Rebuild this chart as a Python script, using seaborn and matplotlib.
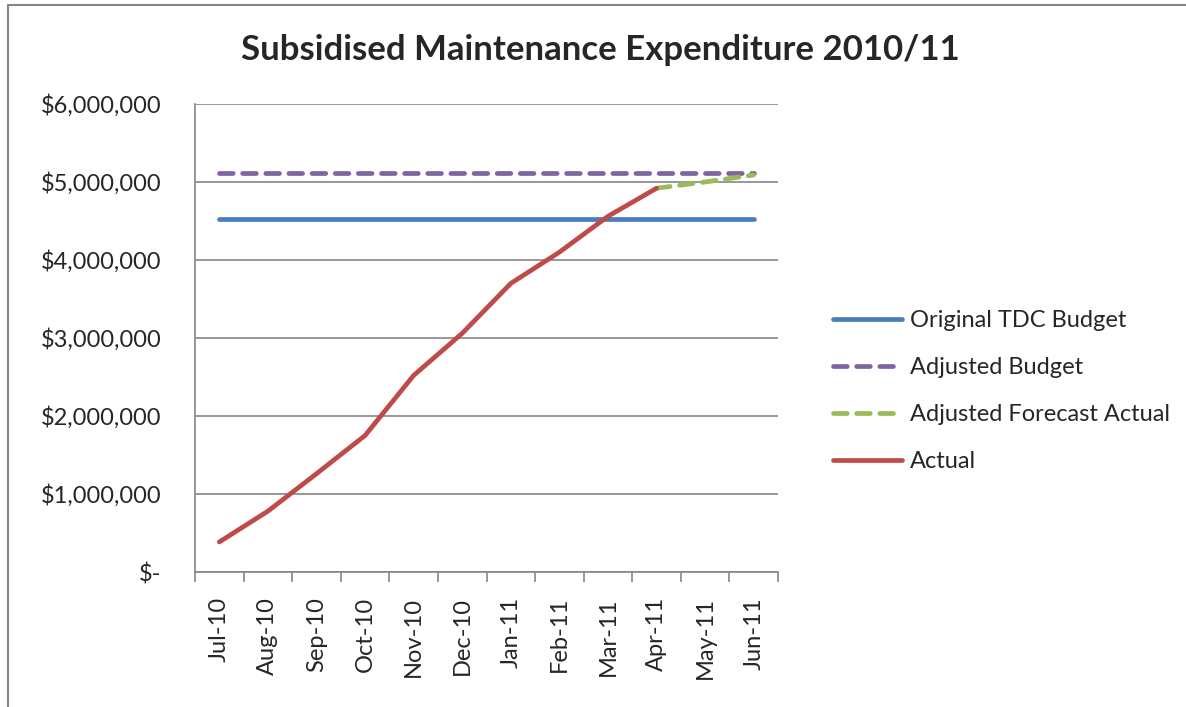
import numpy as np
import pandas as pd
import matplotlib
matplotlib.use("Agg")
import matplotlib.pyplot as plt
from matplotlib.lines import Line2D
import seaborn as sns

months = ["Jul-10", "Aug-10", "Sep-10", "Oct-10", "Nov-10", "Dec-10",
          "Jan-11", "Feb-11", "Mar-11", "Apr-11", "May-11", "Jun-11"]
original_budget = [4520000] * 12
adjusted_budget = [5115000] * 12
forecast_months = ["Apr-11", "May-11", "Jun-11"]
forecast_actual = [4920000, 5000000, 5090000]
actual_months = months[:10]
actual = [385000, 780000, 1260000, 1750000, 2520000, 3060000,
          3700000, 4100000, 4560000, 4920000]
y_ticks = [0, 1000000, 2000000, 3000000, 4000000, 5000000, 6000000]
title = "Subsidised Maintenance Expenditure 2010/11"

sns.set_theme(style="white")
plt.rcParams["font.family"] = ["Lato", "DejaVu Sans"]

fig = plt.figure(figsize=(11.86, 7.07), dpi=100)
ax = fig.add_axes([195 / 1186, 1 - 572 / 707, (778 - 195) / 1186, (572 - 104) / 707])

pos = {m: i for i, m in enumerate(months)}
lw = 3.4
dash = (2.9, 2.0)
c_blue, c_purple, c_green, c_red = "#4A7EBB", "#8064A2", "#9BBB59", "#BE4B48"

sns.lineplot(x=[pos[m] for m in months], y=original_budget, ax=ax, color=c_blue,
             lw=lw, solid_capstyle="round")
sns.lineplot(x=[pos[m] for m in months], y=adjusted_budget, ax=ax, color=c_purple,
             lw=lw)
ax.lines[-1].set_dashes(dash)
ax.lines[-1].set_dash_capstyle("round")
sns.lineplot(x=[pos[m] for m in forecast_months], y=forecast_actual, ax=ax, color=c_green,
             lw=lw)
ax.lines[-1].set_dashes(dash)
ax.lines[-1].set_dash_capstyle("round")
sns.lineplot(x=[pos[m] for m in actual_months], y=actual, ax=ax, color=c_red,
             lw=lw, solid_capstyle="round")

ax.set_xlim(-0.5, len(months) - 0.5)
ax.set_ylim(0, 6000000)
ax.set_yticks(y_ticks)
ax.set_yticklabels(["$-" if v == 0 else "${:,.0f}".format(v) for v in y_ticks],
                   fontsize=17)
ax.set_xticks(range(len(months)))
ax.set_xticklabels(months, rotation=90, fontsize=17)
ax.set_xticks(np.arange(-0.5, len(months)), minor=True)
ax.tick_params(axis="x", which="major", length=0, pad=18)
ax.tick_params(axis="x", which="minor", length=7, width=1.2, color="#868686",
               direction="out", bottom=True)
ax.tick_params(axis="y", length=0, pad=24)
ax.set_xlabel("")
ax.set_ylabel("")

ax.grid(axis="y", color="#868686", lw=1.2)
ax.grid(axis="x", visible=False)
ax.set_axisbelow(True)
for s in ["top", "right"]:
    ax.spines[s].set_visible(False)
for s in ["left", "bottom"]:
    ax.spines[s].set_color("#868686")
    ax.spines[s].set_linewidth(1.2)

handles = [
    Line2D([], [], color=c_blue, lw=lw, solid_capstyle="round"),
    Line2D([], [], color=c_purple, lw=lw, dashes=dash, dash_capstyle="round"),
    Line2D([], [], color=c_green, lw=lw, dashes=dash, dash_capstyle="round"),
    Line2D([], [], color=c_red, lw=lw, solid_capstyle="round"),
]
labels = ["Original TDC Budget", "Adjusted Budget", "Adjusted Forecast Actual", "Actual"]
fig.legend(handles, labels, loc="center left", bbox_to_anchor=(812 / 1186, 1 - 391 / 707),
           frameon=False, fontsize=17, handlelength=2.9, handletextpad=0.35,
           labelspacing=1.1)

fig.text(600 / 1186, 1 - 50 / 707, title, ha="center", va="center",
         fontsize=25, fontweight="bold")

fig.add_artist(Line2D([8 / 1186, 8 / 1186], [0, 1 - 5 / 707], transform=fig.transFigure,
                      color="#868686", lw=1.5))
fig.add_artist(Line2D([8 / 1186, 1], [1 - 5 / 707, 1 - 5 / 707], transform=fig.transFigure,
                      color="#868686", lw=1.5))

fig.savefig("out.png", dpi=100)
